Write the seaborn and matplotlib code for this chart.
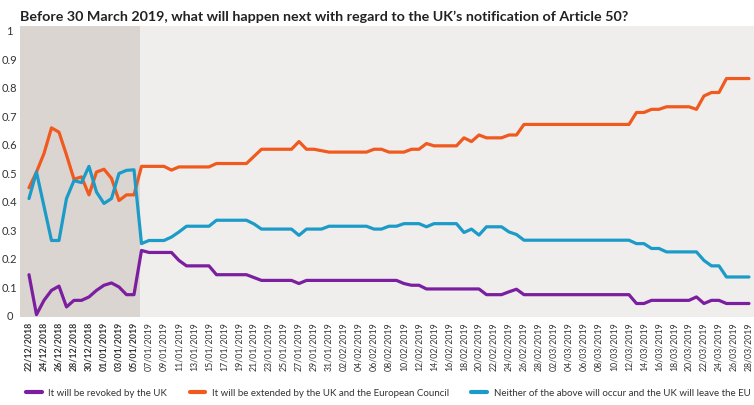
import pandas as pd
import numpy as np
import matplotlib
matplotlib.use("Agg")
import matplotlib.pyplot as plt
import seaborn as sns

title = "Before 30 March 2019, what will happen next with regard to the UK\u2019s notification of Article 50?"

start_date = "2018-12-22"
end_date = "2019-03-28"
shade_until = "2019-01-05"

revoked = [0.14, 0.0, 0.05, 0.085, 0.10, 0.027, 0.05, 0.05, 0.062, 0.085,
           0.103, 0.111, 0.097, 0.07, 0.07, 0.225, 0.218, 0.218, 0.218, 0.218,
           0.19, 0.171, 0.171, 0.171, 0.171, 0.14, 0.14, 0.14, 0.14, 0.14,
           0.13, 0.12, 0.12, 0.12, 0.12, 0.12, 0.109, 0.12, 0.12, 0.12,
           0.12, 0.12, 0.12, 0.12, 0.12, 0.12, 0.12, 0.12, 0.12, 0.12,
           0.109, 0.103, 0.103, 0.09, 0.09, 0.09, 0.09, 0.09, 0.09, 0.09,
           0.09, 0.07, 0.07, 0.07, 0.08, 0.089, 0.07, 0.07, 0.07, 0.07,
           0.07, 0.07, 0.07, 0.07, 0.07, 0.07, 0.07, 0.07, 0.07, 0.07,
           0.07, 0.039, 0.039, 0.05, 0.05, 0.05, 0.05, 0.05, 0.05, 0.062,
           0.039, 0.05, 0.05, 0.039, 0.039, 0.039, 0.039]

extended = [0.445, 0.50, 0.565, 0.655, 0.64, 0.56, 0.475, 0.483, 0.42, 0.50,
            0.51, 0.478, 0.40, 0.42, 0.42, 0.52, 0.52, 0.52, 0.52, 0.507,
            0.518, 0.518, 0.518, 0.518, 0.518, 0.53, 0.53, 0.53, 0.53, 0.53,
            0.555, 0.58, 0.58, 0.58, 0.58, 0.58, 0.607, 0.58, 0.58, 0.575,
            0.57, 0.57, 0.57, 0.57, 0.57, 0.57, 0.58, 0.58, 0.57, 0.57,
            0.57, 0.58, 0.58, 0.60, 0.592, 0.592, 0.592, 0.592, 0.62, 0.607,
            0.63, 0.62, 0.62, 0.62, 0.63, 0.63, 0.667, 0.667, 0.667, 0.667,
            0.667, 0.667, 0.667, 0.667, 0.667, 0.667, 0.667, 0.667, 0.667, 0.667,
            0.667, 0.709, 0.709, 0.72, 0.72, 0.729, 0.729, 0.729, 0.729, 0.72,
            0.767, 0.779, 0.779, 0.828, 0.828, 0.828, 0.828]

neither = [0.407, 0.50, 0.38, 0.26, 0.26, 0.407, 0.47, 0.463, 0.52, 0.43,
           0.39, 0.407, 0.495, 0.506, 0.508, 0.249, 0.26, 0.26, 0.26, 0.272,
           0.29, 0.31, 0.31, 0.31, 0.31, 0.331, 0.331, 0.331, 0.331, 0.331,
           0.318, 0.30, 0.30, 0.30, 0.30, 0.30, 0.278, 0.30, 0.30, 0.30,
           0.31, 0.31, 0.31, 0.31, 0.31, 0.31, 0.30, 0.30, 0.31, 0.31,
           0.319, 0.319, 0.319, 0.308, 0.319, 0.319, 0.319, 0.319, 0.288, 0.30,
           0.279, 0.308, 0.308, 0.308, 0.29, 0.281, 0.261, 0.261, 0.261, 0.261,
           0.261, 0.261, 0.261, 0.261, 0.261, 0.261, 0.261, 0.261, 0.261, 0.261,
           0.261, 0.249, 0.249, 0.232, 0.232, 0.22, 0.22, 0.22, 0.22, 0.22,
           0.19, 0.171, 0.171, 0.132, 0.132, 0.132, 0.132]

labels = ["It will be revoked by the UK",
          "It will be extended by the UK and the European Council",
          "Neither of the above will occur and the UK will leave the EU"]
colors = ["#7b1fa0", "#f05a1f", "#1c9bc8"]

dates = pd.date_range(start_date, end_date, freq="D")
df = pd.DataFrame({"date": dates, labels[0]: revoked, labels[1]: extended, labels[2]: neither})
long = df.melt(id_vars="date", var_name="answer", value_name="prob")

sns.set_style("white")
plt.rcParams["font.family"] = ["Lato", "DejaVu Sans"]

fig = plt.figure(figsize=(7.54, 4.06), dpi=100)
ax = fig.add_axes([0.0265, 0.217, 0.9735, 0.717])
ax.set_facecolor("#efeeec")

day = pd.Timedelta(days=1)
ax.axvspan(dates[0] - 1.2 * day, pd.Timestamp(shade_until) + 0.8 * day, color="#dbd5d1", lw=0, zorder=0)

sns.lineplot(data=long, x="date", y="prob", hue="answer", hue_order=labels,
             palette=colors, linewidth=2.3, ax=ax, legend=False)

ax.set_xlim(dates[0] - 1.2 * day, dates[-1] + 0.67 * day)
ax.set_ylim(-0.008, 1.013)
ax.set_yticks(np.arange(0, 1.01, 0.1))
ax.set_yticklabels(["0"] + [f"{v:.1f}" for v in np.arange(0.1, 0.95, 0.1)] + ["1"])
tick_dates = dates[::2]
ax.set_xticks(tick_dates)
ax.set_xticklabels([d.strftime("%d/%m/%Y") for d in tick_dates], rotation=90)
for d, t in zip(tick_dates, ax.get_xticklabels()):
    if d <= pd.Timestamp(shade_until):
        t.set_fontweight("bold")
ax.tick_params(axis="x", labelsize=6.3, length=0, pad=3, colors="#333333")
ax.tick_params(axis="y", labelsize=8, length=0, pad=7.5, colors="#333333")
for lbl in ax.get_yticklabels():
    lbl.set_horizontalalignment("center")
ax.set_xlabel("")
ax.set_ylabel("")
for s in ax.spines.values():
    s.set_visible(False)

fig.text(0.0265, 0.975, title, fontsize=10.3, fontweight="bold", color="#222222", va="top")

handles = [plt.Line2D([], [], color=c, lw=3) for c in colors]
fig.legend(handles, labels, loc="center", bbox_to_anchor=(0.515, 0.03), ncol=3, frameon=False,
           fontsize=7.0, handlelength=1.6, columnspacing=2.3, handletextpad=0.7,
           labelcolor="#333333")

fig.savefig("out.png", dpi=100)
